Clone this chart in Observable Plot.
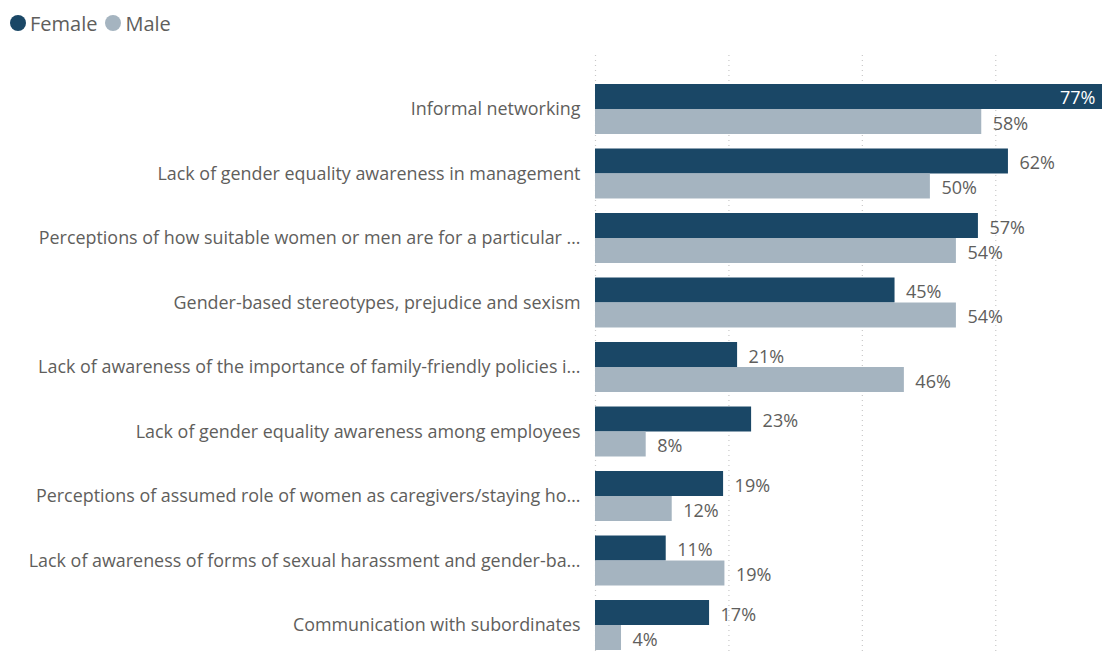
<!DOCTYPE html>
<html><head><meta charset="utf-8">
<script src="https://cdn.jsdelivr.net/npm/d3@7"></script>
<script src="https://cdn.jsdelivr.net/npm/@observablehq/plot@0.6"></script>
<style>
html,body{margin:0;padding:0;background:#fff;overflow:hidden;}
body{font-family:"Open Sans",sans-serif;color:#605e5c;}
#legend{height:40px;display:flex;align-items:center;padding-left:10px;font-size:20px;color:#605e5c;padding-top:6px;box-sizing:border-box;}
.li{display:flex;align-items:center;margin-right:8px;}
.dot{width:16px;height:16px;border-radius:50%;margin-right:4px;}
#chart svg{display:block;}
</style></head>
<body>
<div id="legend"></div>
<div id="chart"></div>
<script>
const categories = [
  "Informal networking",
  "Lack of gender equality awareness in management",
  "Perceptions of how suitable women or men are for a particular …",
  "Gender-based stereotypes, prejudice and sexism",
  "Lack of awareness of the importance of family-friendly policies i…",
  "Lack of gender equality awareness among employees",
  "Perceptions of assumed role of women as caregivers/staying ho…",
  "Lack of awareness of forms of sexual harassment and gender-ba…",
  "Communication with subordinates"
];
const female = [77, 61.9, 57.4, 44.9, 21.3, 23.4, 19.2, 10.6, 17.1];
const male = [57.9, 50.2, 54.1, 54.1, 46.3, 7.6, 11.5, 19.4, 3.9];
const seriesNames = ["Female", "Male"];
const colors = ["#1a4766", "#a5b4c0"];
const gridTicks = [0, 20, 40, 60];

const lg = document.getElementById("legend");
seriesNames.forEach((s, i) => {
  const d = document.createElement("div"); d.className = "li";
  d.innerHTML = `<span class="dot" style="background:${colors[i]}"></span><span>${s}</span>`;
  lg.appendChild(d);
});

const fData = categories.map((c, i) => ({cat: c, v: female[i]}));
const mData = categories.map((c, i) => ({cat: c, v: male[i]}));
const W = 1102, H = 615, half = 25;
const xMax = 76.0;
const fmt = d => Math.round(d.v) + "%";

const chart = Plot.plot({
  width: W, height: H,
  marginLeft: 595, marginRight: 0, marginTop: 44, marginBottom: 5,
  style: {fontFamily: "'Open Sans', sans-serif", fontSize: "18px", color: "#605e5c", background: "#fff"},
  x: {domain: [0, xMax], clamp: true, axis: null},
  y: {domain: categories, paddingInner: 0.225, paddingOuter: 0, round: false, label: null},
  axis: null,
  marks: [
    Plot.ruleX(gridTicks, {stroke: "#c8c8c8", strokeDasharray: "1,4", strokeWidth: 1.2, insetTop: -29, insetBottom: -5}),
    Plot.barX(fData, {x: "v", y: "cat", fill: colors[0], insetBottom: half}),
    Plot.barX(mData, {x: "v", y: "cat", fill: colors[1], insetTop: half}),
    Plot.text(fData.filter(d => d.v < 70), {x: "v", y: "cat", text: fmt, dy: -half/2 + 2, dx: 11, textAnchor: "start", fill: "#605e5c"}),
    Plot.text(fData.filter(d => d.v >= 70), {x: "v", y: "cat", text: fmt, dy: -half/2 + 1, dx: -7, textAnchor: "end", fill: "#ffffff"}),
    Plot.text(mData, {x: "v", y: "cat", text: fmt, dy: half/2 + 2, dx: 11, textAnchor: "start", fill: "#605e5c"}),
    Plot.axisY({tickSize: 0, tickPadding: 15, fontSize: 17.9, fill: "#605e5c", label: null})
  ]
});
document.getElementById("chart").appendChild(chart);
</script>
</body></html>
